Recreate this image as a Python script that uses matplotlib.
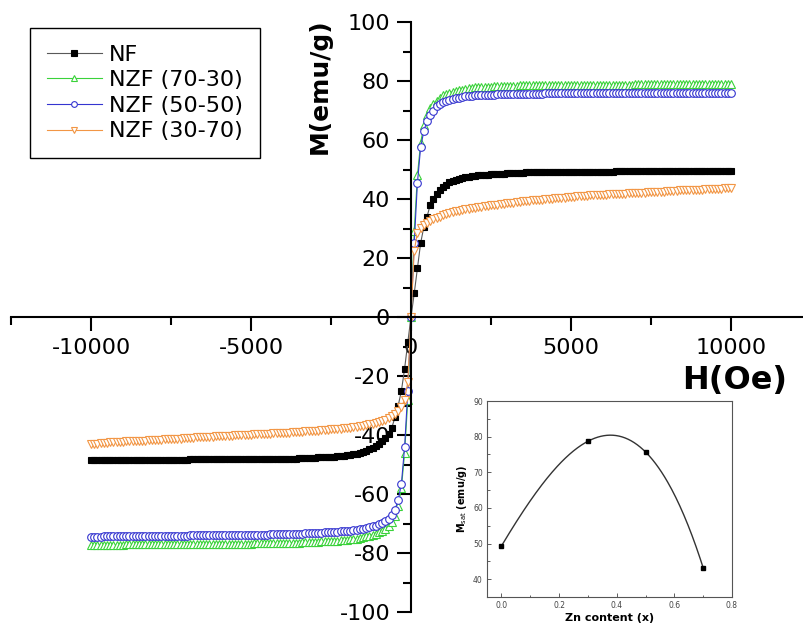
import matplotlib
matplotlib.use('Agg')
import matplotlib.pyplot as plt
import numpy as np
from matplotlib.ticker import MultipleLocator, FixedLocator, FormatStrFormatter

# ---------------- data ----------------
FIELD_OE = [
    0, 100, 200, 300, 400, 500, 600, 700, 800, 900,
    1000, 1100, 1200, 1300, 1400, 1500, 1600, 1700, 1800, 1900,
    2000, 2100, 2200, 2300, 2400, 2500, 2600, 2700, 2800, 2900,
    3000, 3100, 3200, 3300, 3400, 3500, 3600, 3700, 3800, 3900,
    4000, 4100, 4200, 4300, 4400, 4500, 4600, 4700, 4800, 4900,
    5000, 5100, 5200, 5300, 5400, 5500, 5600, 5700, 5800, 5900,
    6000, 6100, 6200, 6300, 6400, 6500, 6600, 6700, 6800, 6900,
    7000, 7100, 7200, 7300, 7400, 7500, 7600, 7700, 7800, 7900,
    8000, 8100, 8200, 8300, 8400, 8500, 8600, 8700, 8800, 8900,
    9000, 9100, 9200, 9300, 9400, 9500, 9600, 9700, 9800, 9900,
    10000]

# magnetisation (emu/g) at +H
NF_POS = [
    0, 8.0, 16.5, 25.0, 30.5, 34.0, 38.0, 40.0, 41.8, 43.0,
    44.2, 44.9, 45.6, 46.1, 46.5, 46.8, 47.1, 47.3, 47.5, 47.7,
    47.9, 48.0, 48.1, 48.2, 48.3, 48.4, 48.5, 48.5, 48.6, 48.6,
    48.7, 48.7, 48.8, 48.8, 48.9, 48.9, 49.0, 49.0, 49.0, 49.0,
    49.1, 49.1, 49.1, 49.1, 49.2, 49.2, 49.2, 49.2, 49.2, 49.2,
    49.3, 49.3, 49.3, 49.3, 49.3, 49.3, 49.3, 49.3, 49.3, 49.3,
    49.3, 49.3, 49.3, 49.3, 49.4, 49.4, 49.4, 49.4, 49.4, 49.4,
    49.4, 49.4, 49.4, 49.4, 49.4, 49.4, 49.4, 49.4, 49.4, 49.4,
    49.4, 49.4, 49.4, 49.5, 49.5, 49.5, 49.5, 49.5, 49.5, 49.5,
    49.5, 49.5, 49.5, 49.5, 49.5, 49.5, 49.5, 49.5, 49.5, 49.5,
    49.5]
# magnetisation (emu/g) at -H
NF_NEG = [
    0, -8.5, -17.5, -25.0, -30.0, -34.0, -37.5, -39.5, -41.0, -42.2,
    -43.0, -43.8, -44.4, -44.9, -45.3, -45.7, -46.0, -46.3, -46.5, -46.7,
    -46.8, -47.0, -47.1, -47.2, -47.3, -47.4, -47.5, -47.5, -47.6, -47.6,
    -47.7, -47.7, -47.8, -47.8, -47.9, -47.9, -48.0, -48.0, -48.0, -48.0,
    -48.1, -48.1, -48.1, -48.1, -48.2, -48.2, -48.2, -48.2, -48.2, -48.2,
    -48.3, -48.3, -48.3, -48.3, -48.3, -48.3, -48.3, -48.3, -48.3, -48.3,
    -48.3, -48.3, -48.3, -48.3, -48.3, -48.3, -48.3, -48.3, -48.3, -48.3,
    -48.4, -48.4, -48.4, -48.4, -48.4, -48.4, -48.4, -48.4, -48.4, -48.4,
    -48.4, -48.4, -48.5, -48.5, -48.5, -48.5, -48.5, -48.5, -48.5, -48.5,
    -48.5, -48.5, -48.5, -48.5, -48.6, -48.6, -48.6, -48.6, -48.6, -48.6,
    -48.6]

NZF7030_POS = [
    0, 29.0, 48.0, 59.0, 65.0, 68.5, 70.8, 72.2, 73.3, 74.4,
    75.3, 75.7, 76.1, 76.4, 76.7, 76.9, 77.1, 77.3, 77.5, 77.7,
    77.8, 77.9, 78.0, 78.0, 78.1, 78.1, 78.2, 78.2, 78.3, 78.3,
    78.4, 78.4, 78.4, 78.4, 78.5, 78.5, 78.5, 78.5, 78.6, 78.6,
    78.6, 78.6, 78.6, 78.6, 78.7, 78.7, 78.7, 78.7, 78.7, 78.7,
    78.8, 78.8, 78.8, 78.8, 78.8, 78.8, 78.8, 78.8, 78.8, 78.8,
    78.8, 78.8, 78.8, 78.8, 78.8, 78.8, 78.8, 78.8, 78.8, 78.8,
    78.9, 78.9, 78.9, 78.9, 78.9, 78.9, 78.9, 78.9, 78.9, 78.9,
    78.9, 78.9, 78.9, 78.9, 78.9, 78.9, 78.9, 78.9, 78.9, 78.9,
    79.0, 79.0, 79.0, 79.0, 79.0, 79.0, 79.0, 79.0, 79.0, 79.0,
    79.0]
NZF7030_NEG = [
    0, -28.0, -46.0, -58.0, -64.0, -67.5, -69.5, -70.8, -71.7, -72.4,
    -73.0, -73.4, -73.8, -74.1, -74.4, -74.7, -74.9, -75.1, -75.2, -75.4,
    -75.5, -75.6, -75.7, -75.8, -75.9, -76.0, -76.0, -76.1, -76.1, -76.2,
    -76.2, -76.3, -76.3, -76.4, -76.4, -76.5, -76.5, -76.5, -76.5, -76.6,
    -76.6, -76.6, -76.6, -76.6, -76.6, -76.7, -76.7, -76.7, -76.7, -76.7,
    -76.8, -76.8, -76.8, -76.8, -76.8, -76.8, -76.8, -76.8, -76.8, -76.8,
    -76.9, -76.9, -76.9, -76.9, -76.9, -76.9, -76.9, -76.9, -76.9, -76.9,
    -77.0, -77.0, -77.0, -77.0, -77.0, -77.0, -77.0, -77.0, -77.0, -77.0,
    -77.1, -77.1, -77.1, -77.1, -77.1, -77.1, -77.1, -77.1, -77.1, -77.1,
    -77.2, -77.2, -77.2, -77.2, -77.2, -77.3, -77.3, -77.3, -77.3, -77.3,
    -77.4]

NZF5050_POS = [
    0, 25.0, 45.5, 57.5, 63.0, 66.5, 68.6, 70.0, 71.5, 72.3,
    72.9, 73.3, 73.7, 74.0, 74.2, 74.4, 74.6, 74.8, 74.9, 75.0,
    75.1, 75.2, 75.2, 75.3, 75.3, 75.4, 75.4, 75.5, 75.5, 75.5,
    75.5, 75.6, 75.6, 75.6, 75.6, 75.7, 75.7, 75.7, 75.7, 75.7,
    75.7, 75.7, 75.8, 75.8, 75.8, 75.8, 75.8, 75.8, 75.8, 75.8,
    75.8, 75.8, 75.8, 75.8, 75.8, 75.8, 75.8, 75.8, 75.8, 75.8,
    75.9, 75.9, 75.9, 75.9, 75.9, 75.9, 75.9, 75.9, 75.9, 75.9,
    75.9, 75.9, 75.9, 75.9, 75.9, 75.9, 75.9, 75.9, 75.9, 75.9,
    76.0, 76.0, 76.0, 76.0, 76.0, 76.0, 76.0, 76.0, 76.0, 76.0,
    76.0, 76.0, 76.0, 76.0, 76.0, 76.1, 76.1, 76.1, 76.1, 76.1,
    76.1]
NZF5050_NEG = [
    0, -25.0, -44.0, -56.5, -62.0, -65.3, -67.2, -68.4, -69.2, -69.8,
    -70.3, -70.7, -71.0, -71.3, -71.5, -71.7, -71.9, -72.1, -72.2, -72.4,
    -72.5, -72.6, -72.7, -72.8, -72.9, -72.9, -73.0, -73.0, -73.1, -73.1,
    -73.2, -73.2, -73.3, -73.3, -73.4, -73.4, -73.5, -73.5, -73.5, -73.5,
    -73.6, -73.6, -73.7, -73.7, -73.7, -73.8, -73.8, -73.8, -73.8, -73.8,
    -73.9, -73.9, -73.9, -73.9, -73.9, -73.9, -73.9, -73.9, -73.9, -73.9,
    -74.0, -74.0, -74.0, -74.0, -74.0, -74.0, -74.0, -74.0, -74.0, -74.0,
    -74.1, -74.1, -74.1, -74.1, -74.1, -74.1, -74.1, -74.1, -74.1, -74.1,
    -74.2, -74.2, -74.2, -74.2, -74.2, -74.2, -74.2, -74.2, -74.2, -74.2,
    -74.3, -74.3, -74.3, -74.3, -74.4, -74.4, -74.4, -74.5, -74.5, -74.5,
    -74.5]

NZF3070_POS = [
    0, 22.5, 28.5, 30.3, 31.3, 32.0, 32.6, 33.1, 33.6, 34.0,
    34.5, 34.9, 35.2, 35.5, 35.8, 36.1, 36.3, 36.5, 36.7, 36.9,
    37.1, 37.3, 37.4, 37.6, 37.7, 37.9, 38.0, 38.1, 38.2, 38.4,
    38.5, 38.7, 38.8, 39.0, 39.1, 39.2, 39.3, 39.4, 39.5, 39.6,
    39.7, 39.8, 39.9, 40.0, 40.1, 40.2, 40.3, 40.4, 40.5, 40.6,
    40.7, 40.8, 40.9, 40.9, 41.0, 41.1, 41.2, 41.2, 41.3, 41.3,
    41.5, 41.5, 41.6, 41.6, 41.7, 41.7, 41.8, 41.8, 41.9, 41.9,
    42.0, 42.1, 42.1, 42.2, 42.3, 42.3, 42.4, 42.4, 42.5, 42.5,
    42.6, 42.7, 42.8, 42.8, 42.9, 42.9, 43.0, 43.0, 43.1, 43.1,
    43.2, 43.2, 43.3, 43.3, 43.4, 43.4, 43.5, 43.5, 43.6, 43.6,
    43.7]
NZF3070_NEG = [
    0, -22.0, -28.0, -30.5, -31.8, -32.8, -33.6, -34.2, -34.8, -35.2,
    -35.6, -35.9, -36.2, -36.4, -36.6, -36.8, -37.0, -37.2, -37.3, -37.5,
    -37.6, -37.7, -37.8, -37.9, -38.0, -38.1, -38.2, -38.3, -38.4, -38.5,
    -38.6, -38.6, -38.7, -38.8, -38.9, -38.9, -39.0, -39.1, -39.2, -39.2,
    -39.3, -39.3, -39.4, -39.4, -39.5, -39.5, -39.6, -39.7, -39.7, -39.8,
    -39.9, -39.9, -40.0, -40.0, -40.1, -40.1, -40.2, -40.3, -40.3, -40.4,
    -40.5, -40.5, -40.6, -40.6, -40.7, -40.7, -40.8, -40.8, -40.9, -40.9,
    -41.1, -41.1, -41.2, -41.2, -41.3, -41.4, -41.4, -41.5, -41.6, -41.6,
    -41.7, -41.8, -41.8, -41.9, -41.9, -42.0, -42.0, -42.1, -42.1, -42.2,
    -42.3, -42.3, -42.4, -42.5, -42.5, -42.6, -42.7, -42.8, -42.9, -42.9,
    -43.0]

LABELS = ['NF', 'NZF (70-30)', 'NZF (50-50)', 'NZF (30-70)']

# inset data
ZN_CONTENT = [0.0, 0.3, 0.5, 0.7]
M_SAT = [49.3, 78.7, 75.7, 43.2]

X_TICKS = [-10000, -5000, 0, 5000, 10000]


def loop(pos, neg):
    h = [-f for f in FIELD_OE[::-1]] + FIELD_OE[1:]
    m = neg[::-1] + pos[1:]
    return h, m


plt.rcParams['font.family'] = ['DejaVu Sans']
plt.rcParams['axes.unicode_minus'] = False

fig = plt.figure(figsize=(8.04, 6.25), dpi=100)
W, H = 804.0, 625.0
ax = fig.add_axes([11 / W, 13 / H, (804 - 11) / W, (612 - 22) / H])
ax.set_xlim(-12500, 12280)
ax.set_ylim(-100, 100)

for s in ['top', 'right']:
    ax.spines[s].set_visible(False)
ax.spines['left'].set_position(('data', 0))
ax.spines['bottom'].set_position(('data', 0))
for s in ['left', 'bottom']:
    ax.spines[s].set_linewidth(1.5)

ax.xaxis.set_major_locator(FixedLocator(X_TICKS))
ax.xaxis.set_minor_locator(MultipleLocator(2500))
ax.yaxis.set_major_locator(MultipleLocator(20))
ax.yaxis.set_minor_locator(MultipleLocator(10))
ax.tick_params(which='major', direction='out', length=10, width=1.5,
               labelsize=16, pad=5)
ax.tick_params(which='minor', direction='out', length=6, width=1.5)

styles = [
    dict(marker='s', ms=5, color='0.35', mfc='black', mec='black', mew=0.8),
    dict(marker='^', ms=6, color='#3ad23a', mfc='white', mec='#3ad23a', mew=0.8),
    dict(marker='o', ms=5.5, color='#3535d0', mfc='white', mec='#3535d0', mew=0.8),
    dict(marker='v', ms=6, color='#f29645', mfc='white', mec='#f29645', mew=0.8),
]
datasets = [(NF_POS, NF_NEG), (NZF7030_POS, NZF7030_NEG),
            (NZF5050_POS, NZF5050_NEG), (NZF3070_POS, NZF3070_NEG)]
for (pos, neg), lab, st in zip(datasets, LABELS, styles):
    h, m = loop(pos, neg)
    ax.plot(h, m, lw=0.8, label=lab, **st)

leg = ax.legend(loc='upper left', bbox_to_anchor=(30 / W, 1 - 28 / H),
                bbox_transform=fig.transFigure, frameon=True, fancybox=False,
                edgecolor='black', framealpha=1, fontsize=16,
                handlelength=2.5, handletextpad=0.3, labelspacing=0.25,
                borderpad=0.75, borderaxespad=0, numpoints=1, markerscale=0.75)
leg.get_frame().set_linewidth(1.0)

fig.text(320 / W, 1 - 86 / H, 'M(emu/g)', rotation=90, ha='center',
         va='center', fontsize=18, fontweight='bold')
fig.text(735 / W, 1 - 380 / H, 'H(Oe)', ha='center', va='center',
         fontsize=23, fontweight='bold')

# ---------------- inset ----------------
ins = fig.add_axes([487 / W, 1 - 597 / H, 245 / W, 196 / H])
ins.set_xlim(-0.05, 0.8)
ins.set_ylim(35, 90)
coef = np.polyfit(ZN_CONTENT, M_SAT, 3)
xs = np.linspace(min(ZN_CONTENT), max(ZN_CONTENT), 200)
ins.plot(xs, np.polyval(coef, xs), color='#333333', lw=1.0)
ins.plot(ZN_CONTENT, M_SAT, ls='none', marker='s', ms=3.5, color='black')
ins.xaxis.set_major_locator(MultipleLocator(0.2))
ins.xaxis.set_minor_locator(MultipleLocator(0.1))
ins.yaxis.set_major_locator(MultipleLocator(10))
ins.yaxis.set_minor_locator(MultipleLocator(5))
ins.tick_params(which='both', direction='in', labelsize=5.5, colors='#444444',
                width=0.6, pad=3)
ins.tick_params(which='major', length=3)
ins.tick_params(which='minor', length=1.8)
ins.xaxis.set_major_formatter(FormatStrFormatter('%.1f'))
for s in ins.spines.values():
    s.set_linewidth(0.8)
    s.set_color('#555555')
ins.set_ylabel(r'M$_{\rm sat}$ (emu/g)', fontsize=7, fontweight='bold',
               labelpad=3)
ins.set_xlabel('Zn content (x)', fontsize=8, fontweight='bold', labelpad=2)

fig.savefig('out.png', dpi=100)
